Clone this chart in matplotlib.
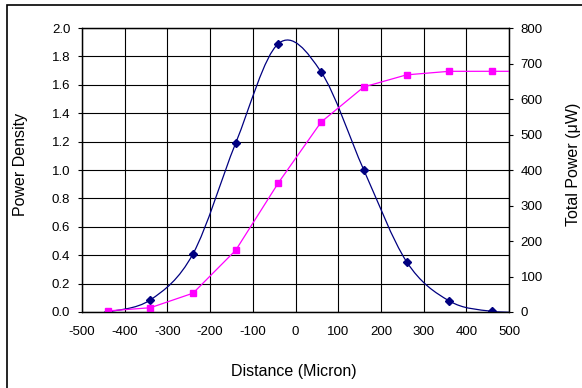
import numpy as np
import matplotlib.pyplot as plt
from matplotlib.path import Path
from matplotlib.patches import PathPatch, Rectangle

plt.rcParams['font.family'] = ['Liberation Sans', 'DejaVu Sans']
plt.rcParams['axes.unicode_minus'] = False

distance = [-440, -340, -240, -140, -40, 60, 160, 260, 360, 460, 560]
power_density = [0.0, 0.085, 0.41, 1.19, 1.89, 1.69, 1.00, 0.355, 0.078, 0.005, 0.0]
total_power = [3, 12, 53, 174, 364, 535, 634, 668, 678, 678, 678]

x_ticks = list(range(-500, 501, 100))
left_ticks = [round(0.2 * i, 1) for i in range(11)]
right_ticks = list(range(0, 801, 100))


def smooth_path(xs, ys):
    # Excel-style smoothed line: cubic Bezier through each point
    pts = np.column_stack([xs, ys]).astype(float)
    verts = [pts[0]]
    codes = [Path.MOVETO]
    n = len(pts)
    for i in range(n - 1):
        p0 = pts[i - 1] if i > 0 else pts[i]
        p1, p2 = pts[i], pts[i + 1]
        p3 = pts[i + 2] if i + 2 < n else pts[i + 1]
        verts += [p1 + (p2 - p0) / 6, p2 - (p3 - p1) / 6, p2]
        codes += [Path.CURVE4] * 3
    return Path(verts, codes)


fig = plt.figure(figsize=(5.82, 3.88), dpi=100)
fig.patches.append(Rectangle((7 / 582, -0.1), 1.2, 1 - 5 / 388 + 0.1,
                             transform=fig.transFigure, fill=False,
                             edgecolor='black', linewidth=1.2))

ax = fig.add_axes([82 / 582, 1 - 312 / 388, 427 / 582, 284 / 388])
ax2 = ax.twinx()

ax.set_xlim(-500, 500)
ax.set_ylim(0, 2.0)
ax2.set_ylim(0, 800)

ax.set_xticks(x_ticks)
ax.set_yticks(left_ticks)
ax.set_yticklabels([f'{v:.1f}' for v in left_ticks])
ax2.set_yticks(right_ticks)
ax.grid(True, color='black', linewidth=0.8)
ax.set_axisbelow(True)

ax.add_patch(PathPatch(smooth_path(distance, power_density), fill=False,
                       edgecolor='#000080', linewidth=0.9, zorder=3))
ax.plot(distance, power_density, linestyle='none', marker='D',
        color='#000080', markersize=4.5, zorder=4)

ax2.plot(distance, total_power, color='#FF00FF', marker='s', markersize=4.5,
         linewidth=0.9)

for a in (ax, ax2):
    a.tick_params(labelsize=9.5, length=3, width=0.8, color='black')
    for s in a.spines.values():
        s.set_linewidth(0.9)
ax.tick_params(axis='x', pad=10, length=0)
ax.tick_params(axis='y', pad=5.5)
ax2.tick_params(axis='y', pad=5.5)

ax.set_xlabel('Distance (Micron)', fontsize=11.5)
ax.set_ylabel('Power Density', fontsize=11.5)
ax2.set_ylabel('Total Power (\u03bcW)', fontsize=11.5)
ax.xaxis.set_label_coords(0.496, -0.211)
ax.xaxis.label.set_va('center')
ax.yaxis.set_label_coords(-0.145, 0.52)
ax.yaxis.label.set_va('center')
ax2.yaxis.set_label_coords(1.152, 0.52)
ax2.yaxis.label.set_va('center')

fig.savefig('out.png', dpi=100)
